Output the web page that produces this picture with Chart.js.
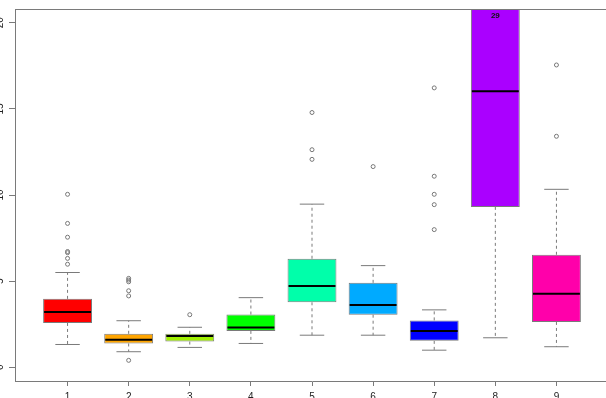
<!DOCTYPE html>
<html>
<head>
<meta charset="utf-8">
<script src="https://cdn.jsdelivr.net/npm/chart.js@4/dist/chart.umd.min.js"></script>
<style>
  html, body { margin: 0; overflow: hidden; background: #fff; width: 606px; height: 398px; }
  #wrap { position: absolute; left: -20px; top: 0; width: 700px; height: 420px; }
</style>
</head>
<body>
<div id="wrap"><canvas id="myChart"></canvas></div>
<script>
// group positions on the x axis
const groups = [1, 2, 3, 4, 5, 6, 7, 8, 9]

// box statistics
const lowerWhisker = [1.32, 0.90, 1.15, 1.38, 1.86, 1.86, 0.99, 1.71, 1.19]
const q1 = [2.57, 1.38, 1.49, 2.11, 3.77, 3.05, 1.53, 9.31, 2.63]
const medians = [3.20, 1.59, 1.82, 2.30, 4.71, 3.62, 2.11, 16.03, 4.27]
const q3 = [3.97, 1.94, 1.94, 3.06, 6.30, 4.90, 2.72, 24.0, 6.53]
const upperWhisker = [5.50, 2.70, 2.32, 4.04, 9.47, 5.90, 3.33, 29.0, 10.33]

const outliers = [
  [10.04, 8.35, 7.55, 6.72, 6.65, 6.32, 5.98],
  [0.40, 4.14, 4.44, 4.96, 5.06, 5.16],
  [3.05],
  [],
  [14.79, 12.63, 12.07],
  [11.65],
  [16.22, 11.09, 10.04, 9.44, 7.99],
  [],
  [17.55, 13.41]
]

// value written at the top of the clipped box
const topLabelGroup = 8
const topLabelText = '29'

const yTicks = [0, 5, 10, 15, 20]

const boxColors = ['#FF0000', '#FFA500', '#A0F000', '#00FF00', '#00FFAA',
                   '#00AAFF', '#0000FF', '#AA00FF', '#FF00AA']

const lineGrey = '#7a7a7a'

const boxData = groups.map((g, i) => ({ x: g, y: [q1[i], q3[i]] }))
const outlierData = []
groups.forEach((g, i) => {
  outliers[i].forEach((v) => outlierData.push({ x: g, y: v }))
})

// whiskers, caps, medians and the top label
const boxDecor = {
  id: 'boxDecor',
  afterDatasetsDraw(chart) {
    const ctx = chart.ctx
    const area = chart.chartArea
    const yScale = chart.scales.y
    const xScale = chart.scales.x
    const bars = chart.getDatasetMeta(0).data

    ctx.save()
    ctx.beginPath()
    ctx.rect(area.left, area.top, area.right - area.left, area.bottom - area.top)
    ctx.clip()

    bars.forEach((bar, i) => {
      const x = bar.x
      const half = bar.width / 2
      const yLo = yScale.getPixelForValue(lowerWhisker[i])
      const yHi = yScale.getPixelForValue(upperWhisker[i])
      const yQ1 = yScale.getPixelForValue(q1[i])
      const yQ3 = yScale.getPixelForValue(q3[i])
      const yMed = yScale.getPixelForValue(medians[i])

      // dashed whiskers
      ctx.strokeStyle = lineGrey
      ctx.lineWidth = 1
      ctx.setLineDash([3, 3])
      ctx.beginPath()
      ctx.moveTo(x, yQ1)
      ctx.lineTo(x, yLo)
      ctx.moveTo(x, yQ3)
      ctx.lineTo(x, yHi)
      ctx.stroke()

      // caps
      ctx.setLineDash([])
      ctx.beginPath()
      ctx.moveTo(x - half / 2, yLo)
      ctx.lineTo(x + half / 2, yLo)
      ctx.moveTo(x - half / 2, yHi)
      ctx.lineTo(x + half / 2, yHi)
      ctx.stroke()

      // median
      ctx.strokeStyle = '#000'
      ctx.lineWidth = 2
      ctx.beginPath()
      ctx.moveTo(x - half + 1, yMed)
      ctx.lineTo(x + half - 1, yMed)
      ctx.stroke()
    })

    // top frame line (right side is off the page)
    ctx.restore()
    ctx.save()
    ctx.strokeStyle = lineGrey
    ctx.lineWidth = 1
    ctx.beginPath()
    ctx.moveTo(area.left, area.top + 0.5)
    ctx.lineTo(area.right, area.top + 0.5)
    ctx.stroke()

    ctx.fillStyle = '#111'
    ctx.font = 'bold 8px "Liberation Sans", Arial, sans-serif'
    ctx.textAlign = 'center'
    ctx.textBaseline = 'top'
    ctx.fillText(topLabelText, xScale.getPixelForValue(topLabelGroup), area.top + 3)
    ctx.restore()
  }
}

const ctx = document.getElementById('myChart').getContext('2d')

const chart = new Chart(ctx, {
  type: 'bar',
  data: {
    datasets: [
      {
        type: 'bar',
        data: boxData,
        backgroundColor: boxColors,
        borderColor: lineGrey,
        borderWidth: 1,
        borderSkipped: false,
        barPercentage: 0.8,
        categoryPercentage: 1.0,
        order: 2
      },
      {
        type: 'scatter',
        data: outlierData,
        pointStyle: 'circle',
        pointRadius: 2,
        pointBorderWidth: 1,
        pointBorderColor: '#777',
        pointBackgroundColor: 'rgba(255,255,255,0)',
        order: 1
      }
    ]
  },
  options: {
    responsive: true,
    maintainAspectRatio: false,
    animation: false,
    layout: {
      padding: { left: 0, right: 71, top: 6, bottom: 0 }
    },
    plugins: {
      legend: { display: false },
      tooltip: { enabled: false }
    },
    scales: {
      x: {
        type: 'linear',
        min: 0.14,
        max: 9.86,
        offset: false,
        afterFit: (scale) => { scale.height = 39 },
        grid: {
          offset: false,
          drawOnChartArea: false,
          drawTicks: true,
          tickLength: 5,
          color: lineGrey
        },
        border: { display: true, color: lineGrey },
        ticks: {
          stepSize: 1,
          includeBounds: false,
          padding: 5,
          color: '#222',
          font: { family: '"Liberation Sans", Arial, sans-serif', size: 10 }
        }
      },
      y: {
        type: 'linear',
        min: -0.8,
        max: 20.8,
        afterFit: (scale) => { scale.width = 35 },
        afterBuildTicks: (scale) => { scale.ticks = yTicks.map((v) => ({ value: v })) },
        grid: {
          drawOnChartArea: false,
          drawTicks: true,
          tickLength: 6,
          color: lineGrey
        },
        border: { display: true, color: lineGrey },
        ticks: {
          minRotation: 90,
          maxRotation: 90,
          crossAlign: 'center',
          padding: 3,
          color: '#222',
          font: { family: '"Liberation Sans", Arial, sans-serif', size: 10 }
        }
      }
    }
  },
  plugins: [boxDecor]
})
</script>
</body>
</html>
